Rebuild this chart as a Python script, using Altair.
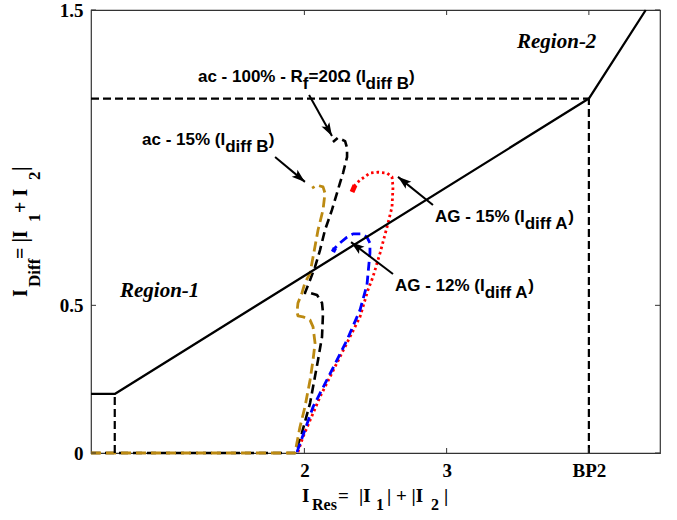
import math
import altair as alt
import pandas as pd

# ---------------- axes ----------------
X_DOMAIN = [0.5, 4.5]
Y_DOMAIN = [0.0, 1.5]
X_TICKS = [2, 3, 4]
Y_TICKS = [0, 0.5, 1.5]
W, H = 569, 443
PXX = W / (X_DOMAIN[1] - X_DOMAIN[0])
PXY = H / (Y_DOMAIN[1] - Y_DOMAIN[0])

# ---------------- characteristic ----------------
char_x = [0.5, 0.667, 4.0, 4.4]
char_y = [0.2, 0.2, 1.2, 1.5]

guide_x1 = [0.667, 0.5, 4.0]
guide_y1 = [0.0, 1.2, 0.0]
guide_x2 = [0.667, 4.0, 4.0]
guide_y2 = [0.2, 1.2, 1.2]

# ---------------- trajectories ----------------
gold_x = [0.5, 1.934, 1.969, 2.004, 2.040, 2.061, 2.075, 2.061, 2.040, 1.990, 1.955, 1.948,
          1.955, 1.983, 2.004, 2.040, 2.096, 2.131, 2.145, 2.131, 2.089, 2.054]
gold_y = [0.0, 0.0, 0.088, 0.156, 0.247, 0.315, 0.372, 0.427, 0.450, 0.461, 0.464, 0.477,
          0.508, 0.542, 0.576, 0.609, 0.755, 0.823, 0.880, 0.901, 0.907, 0.897]

black_x = [0.5, 1.934, 1.983, 2.040, 2.096, 2.124, 2.131, 2.124, 2.089, 2.040, 2.004,
           2.040, 2.075, 2.110, 2.145, 2.194, 2.250, 2.272, 2.300, 2.300, 2.286, 2.236, 2.201]
black_y = [0.0, 0.0, 0.068, 0.169, 0.315, 0.393, 0.474, 0.508, 0.535, 0.542, 0.542,
           0.586, 0.630, 0.687, 0.755, 0.823, 0.914, 0.948, 1.002, 1.033, 1.056, 1.067, 1.053]

red_x = [1.955, 1.990, 2.110, 2.250, 2.391, 2.447, 2.482, 2.532, 2.581, 2.616, 2.623,
         2.616, 2.581, 2.518, 2.461, 2.391, 2.356, 2.335]
red_y = [0.003, 0.054, 0.190, 0.325, 0.461, 0.552, 0.596, 0.677, 0.765, 0.833, 0.901,
         0.935, 0.948, 0.951, 0.948, 0.924, 0.907, 0.884]

blue_x = [1.948, 2.061, 2.194, 2.300, 2.391, 2.440, 2.461, 2.461, 2.440, 2.405, 2.342,
          2.300, 2.250, 2.215, 2.201]
blue_y = [0.003, 0.156, 0.281, 0.383, 0.484, 0.569, 0.677, 0.711, 0.731, 0.742, 0.742,
          0.731, 0.711, 0.694, 0.681]

# ---------------- annotations ----------------
arrow_tail_x = [2.033, 1.794, 2.904, 2.623]
arrow_tail_y = [1.212, 1.002, 0.840, 0.606]
arrow_tip_x = [2.194, 2.004, 2.658, 2.328]
arrow_tip_y = [1.073, 0.918, 0.935, 0.714]

ann_pieces = [
    [("ac - 100% - R", 0), ("f", 1), ("=20Ω (I", 0), ("diff B", 1), (")", 0)],
    [("ac - 15% (I", 0), ("diff B", 1), (")", 0)],
    [("AG - 15% (I", 0), ("diff A", 1), (")", 0)],
    [("AG - 12% (I", 0), ("diff A", 1), (")", 0)],
]
ann_x = [1.252, 0.859, 2.918, 2.637]
ann_y = [1.256, 1.043, 0.782, 0.549]

region_text = ["Region-1", "Region-2"]
region_x = [0.704, 3.495]
region_y = [0.528, 1.371]

xtitle_text = ["I", "Res", "=", "|I", "1", "| + |I", "2", "|"]
xtitle_sub = [0, 1, 0, 0, 1, 0, 1, 0]
xtitle_x = [1.983, 2.054, 2.236, 2.384, 2.504, 2.581, 2.890, 2.982]

ytitle_text = ["I", "Diff", "= |I", "1", " + I", "2", "|"]
ytitle_sub = [0, 1, 0, 1, 0, 1, 0]
ytitle_y = [0.528, 0.562, 0.657, 0.782, 0.813, 0.924, 0.955]

# ---------------- helpers ----------------
SANS_BOLD = {" ": 278, "a": 556, "c": 556, "d": 611, "f": 333, "i": 278, "-": 333,
             "%": 889, "(": 333, ")": 333, "I": 278, "R": 722, "=": 584, "A": 722,
             "B": 722, "G": 778, "Ω": 768}


def sans_width(s, size):
    return sum(SANS_BOLD.get(c, 556) for c in s) * size / 1000.0


xscale = alt.Scale(domain=X_DOMAIN, nice=False, zero=False)
yscale = alt.Scale(domain=Y_DOMAIN, nice=False, zero=False)
common_axis = dict(title=None, ticks=False, domain=False, grid=False, labelFlush=False,
                   labelFont="Liberation Serif", labelFontSize=19, labelFontWeight="bold",
                   labelColor="black", labelPadding=8)
xaxis = alt.Axis(values=X_TICKS, labelExpr="datum.value == 4 ? 'BP2' : '' + datum.value",
                 **common_axis)
yaxis = alt.Axis(values=Y_TICKS, labelExpr="'' + datum.value", **common_axis)


def X(f):
    return alt.X(f, type="quantitative", scale=xscale, axis=xaxis)


def Y(f):
    return alt.Y(f, type="quantitative", scale=yscale, axis=yaxis)


def line_layer(xs, ys, color, width, dash=None):
    df = pd.DataFrame({"x": xs, "y": ys, "i": list(range(len(xs)))})
    kw = dict(color=color, strokeWidth=width, strokeCap="butt", strokeJoin="round")
    if dash:
        kw["strokeDash"] = dash
    return alt.Chart(df).mark_line(**kw).encode(x=X("x"), y=Y("y"), order="i:Q")


layers = []

# trajectories
layers.append(line_layer(black_x, black_y, "black", 2.6, [9, 5]))
layers.append(line_layer(gold_x, gold_y, "#BC8A12", 2.8, [10, 5]))
layers.append(line_layer(red_x, red_y, "#FF0000", 2.8, [2.5, 3]))
layers.append(line_layer(red_x[-2:], red_y[-2:], "#FF0000", 5))
layers.append(line_layer(blue_x, blue_y, "#0000FF", 2.8, [9, 5]))
layers.append(line_layer(blue_x[-2:], blue_y[-2:], "#0000FF", 4.5))

# guides
guide_df = pd.DataFrame({"x1": guide_x1, "y1": guide_y1, "x2": guide_x2, "y2": guide_y2})
layers.append(alt.Chart(guide_df).mark_rule(color="black", strokeWidth=2.2, strokeDash=[8, 4])
              .encode(x=X("x1"), y=Y("y1"), x2="x2:Q", y2="y2:Q"))

# characteristic
layers.append(line_layer(char_x, char_y, "black", 2.3))

# inward ticks
xt = pd.DataFrame({"v": X_TICKS})
yt = pd.DataFrame({"v": Y_TICKS})
layers.append(alt.Chart(xt).mark_rule(color="#333", strokeWidth=1)
              .encode(x=X("v"), y=alt.value(H), y2=alt.value(H - 5)))
layers.append(alt.Chart(xt).mark_rule(color="#333", strokeWidth=1)
              .encode(x=X("v"), y=alt.value(0), y2=alt.value(5)))
layers.append(alt.Chart(yt).mark_rule(color="#333", strokeWidth=1)
              .encode(y=Y("v"), x=alt.value(0), x2=alt.value(5)))
layers.append(alt.Chart(yt).mark_rule(color="#333", strokeWidth=1)
              .encode(y=Y("v"), x=alt.value(W), x2=alt.value(W - 5)))

# arrows
angles = []
for tx, ty, hx, hy in zip(arrow_tail_x, arrow_tail_y, arrow_tip_x, arrow_tip_y):
    dxp = (hx - tx) * PXX
    dyp = -(hy - ty) * PXY
    angles.append(math.degrees(math.atan2(dxp, -dyp)) % 360)
arrow_df = pd.DataFrame({"x1": arrow_tail_x, "y1": arrow_tail_y, "x2": arrow_tip_x,
                         "y2": arrow_tip_y, "a": angles})
layers.append(alt.Chart(arrow_df).mark_rule(color="black", strokeWidth=2)
              .encode(x=X("x1"), y=Y("y1"), x2="x2:Q", y2="y2:Q"))
ARROW_SHAPE = "M0,0 L-0.45,1.35 L0,1.05 L0.45,1.35 Z"
layers.append(alt.Chart(arrow_df).mark_point(shape=ARROW_SHAPE, filled=True, size=400,
                                              color="black", opacity=1, strokeWidth=0)
              .encode(x=X("x2"), y=Y("y2"), angle=alt.Angle("a:Q", scale=None)))

# annotation texts
ANN_SIZE = 17
SUB_DROP = 7
rows = []
for pieces, ax, ay in zip(ann_pieces, ann_x, ann_y):
    cur = 0.0
    for txt, sub in pieces:
        rows.append({"x": ax + cur / PXX, "y": ay - sub * SUB_DROP / PXY, "t": txt})
        cur += sans_width(txt, ANN_SIZE)
ann_df = pd.DataFrame(rows)
layers.append(alt.Chart(ann_df).mark_text(align="left", baseline="alphabetic",
                                           font="Liberation Sans", fontWeight="bold",
                                           fontSize=ANN_SIZE, color="black")
              .encode(x=X("x"), y=Y("y"), text="t:N"))

# region labels
reg_df = pd.DataFrame({"x": region_x, "y": region_y, "t": region_text})
layers.append(alt.Chart(reg_df).mark_text(align="left", baseline="alphabetic",
                                           font="Liberation Serif", fontWeight="bold",
                                           fontStyle="italic", fontSize=21, color="black")
              .encode(x=X("x"), y=Y("y"), text="t:N"))

# x title
XT_MAIN_Y, XT_SUB_Y = -0.166, -0.194
xt_df = pd.DataFrame({"x": xtitle_x,
                      "y": [XT_SUB_Y if s else XT_MAIN_Y for s in xtitle_sub],
                      "t": xtitle_text, "s": xtitle_sub})
for s, size in [(0, 19), (1, 16)]:
    layers.append(alt.Chart(xt_df[xt_df.s == s]).mark_text(
        align="left", baseline="alphabetic", font="Liberation Serif", fontWeight="bold",
        fontSize=size, color="black").encode(x=X("x"), y=Y("y"), text="t:N"))

# y title (rotated)
YT_MAIN_X, YT_SUB_X = 0.050, 0.141
yt_df = pd.DataFrame({"x": [YT_SUB_X if s else YT_MAIN_X for s in ytitle_sub],
                      "y": ytitle_y, "t": ytitle_text, "s": ytitle_sub})
for s, size in [(0, 20), (1, 17)]:
    layers.append(alt.Chart(yt_df[yt_df.s == s]).mark_text(
        align="left", baseline="alphabetic", font="Liberation Serif", fontWeight="bold",
        fontSize=size, angle=270, color="black").encode(x=X("x"), y=Y("y"), text="t:N"))

chart = alt.layer(*layers).properties(
    width=W, height=H,
    autosize=alt.AutoSizeParams(type="none"),
    padding={"left": 91, "top": 10, "right": 17, "bottom": 67},
    background="white",
).configure_view(stroke="#333", strokeWidth=1.2)

chart.save("out.html", embed_options={"renderer": "svg", "actions": False})
